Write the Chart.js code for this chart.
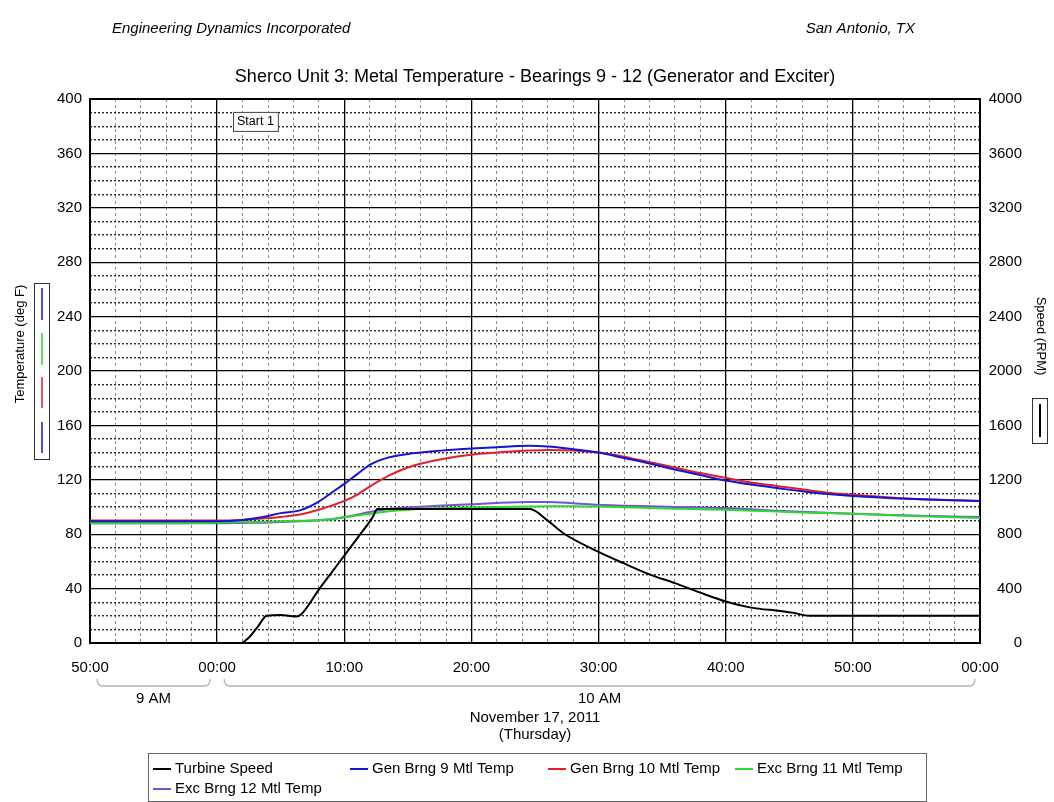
<!DOCTYPE html>
<html>
<head>
<meta charset="utf-8">
<title>Sherco Unit 3 - Bearings 9-12</title>
<script src="https://cdn.jsdelivr.net/npm/chart.js@4.4.1/dist/chart.umd.min.js"></script>
<style>
    html, body { margin: 0; padding: 0; background: #fff; }
    #wrap { width: 1054px; height: 802px; }
</style>
</head>
<body>
<div id="wrap"><canvas id="bearingChart" width="1054" height="802"></canvas></div>
<script>
// All times are minutes after 8:50 AM (x axis runs 8:50 -> 10:00)
const tempMinutes = [0, 5, 10, 12, 13.5, 15, 16.5, 18, 19, 20, 21, 22, 23.5, 25, 27, 30, 32, 34.5, 36, 38, 40, 42, 44, 46, 48, 50, 52, 54, 56, 58, 60, 63, 66, 70];
const gen9Temp  = [89.5, 89.5, 89.5, 90.5, 92.5, 95.5, 97.5, 104, 110.5, 117, 124, 131, 136.5, 139, 141, 143, 144, 145, 144.5, 142.5, 140, 136, 132, 127.5, 123.5, 119.5, 116.5, 114, 111.5, 109.5, 108, 106.5, 105.5, 104.5];
const gen10Temp = [90, 90, 90, 90.5, 91.5, 92.7, 94.5, 98, 101, 104.5, 109, 115, 123, 129, 134, 138.5, 140, 141.5, 142, 141.5, 140, 137, 133, 129, 125, 121.5, 118, 115.5, 113, 110.5, 109, 107, 105.5, 104.5];
const exc11Temp = [88, 88, 88.5, 89, 89, 89.5, 89.8, 90.2, 91, 92.5, 93.8, 95, 96.8, 98, 99, 99.7, 100, 100.3, 100.5, 100.5, 100.3, 99.8, 99.3, 98.8, 98.3, 98, 97.3, 96.7, 96, 95.5, 95, 94, 93, 92];
const exc12Temp = [88, 88, 88, 88.3, 88.5, 89, 89.5, 90.3, 91, 92.5, 94.3, 96.3, 98.5, 99.7, 100.8, 102, 103, 103.7, 103.7, 102.8, 101.6, 101, 100.5, 100, 99.6, 99.2, 98.3, 97.3, 96.5, 95.8, 95, 94.2, 93.4, 92.6];

const speedMinutes = [12, 12.6, 13.2, 13.9, 15, 16.2, 16.6, 18, 19, 20, 21, 22.2, 22.6, 26, 30, 34.6, 36, 37.2, 40, 42, 44, 46, 48, 50, 52, 54.3, 55.3, 56.6, 70];
const turbineSpeed = [0, 50, 120, 200, 205, 195, 210, 393, 518, 643, 768, 920, 985, 985, 985, 985, 900, 809, 670, 585, 505, 440, 370, 305, 260, 235, 222, 200, 200];

const seriesNames  = ['Turbine Speed', 'Gen Brng 9 Mtl Temp', 'Gen Brng 10 Mtl Temp', 'Exc Brng 11 Mtl Temp', 'Exc Brng 12 Mtl Temp'];
const seriesColors = ['#000000', '#1414d2', '#e0202c', '#2ed82e', '#7452d6'];

const startHour = { hour: 8, minute: 50 };
const hourGroups = [
    { label: '9 AM', from: 0, to: 10 },
    { label: '10 AM', from: 10, to: 70 }
];
const headerLeft = 'Engineering Dynamics Incorporated';
const headerRight = 'San Antonio, TX';
const chartTitle = 'Sherco Unit 3: Metal Temperature - Bearings 9 - 12 (Generator and Exciter)';
const dateLines = ['November 17, 2011', '(Thursday)'];
const startMarker = { label: 'Start 1', minute: 11.25, temp: 390.5 };

const FONT = '"Liberation Sans", Arial, Helvetica, sans-serif';

function pairs(xs, ys) {
    return xs.map((x, i) => ({ x: x, y: ys[i] }));
}

function minuteLabel(v) {
    const m = (startHour.minute + v) % 60;
    return String(m).padStart(2, '0') + ':00';
}

// extra texts, brackets, axis keys and the boxed legend
const decorPlugin = {
    id: 'decor',
    afterDraw(chart) {
        const ctx = chart.ctx;
        const area = chart.chartArea;
        const xs = chart.scales.x;
        const ys = chart.scales.y;
        ctx.save();
        ctx.fillStyle = '#000';
        ctx.textBaseline = 'middle';

        // page header
        ctx.font = 'italic 15px ' + FONT;
        ctx.textAlign = 'left';
        ctx.fillText(headerLeft, 112, 29);
        ctx.textAlign = 'right';
        ctx.fillText(headerRight, 915, 29);

        // title
        ctx.font = '18px ' + FONT;
        ctx.textAlign = 'center';
        ctx.fillText(chartTitle, (area.left + area.right) / 2, 77);

        // start marker
        const sx = xs.getPixelForValue(startMarker.minute);
        const sy = ys.getPixelForValue(startMarker.temp);
        ctx.font = '12.5px ' + FONT;
        const sw = ctx.measureText(startMarker.label).width + 8;
        ctx.fillStyle = '#fff';
        ctx.fillRect(sx, sy, sw, 19);
        ctx.strokeStyle = '#444';
        ctx.lineWidth = 1;
        ctx.strokeRect(sx + 0.5, sy + 0.5, sw, 19);
        ctx.fillStyle = '#000';
        ctx.textAlign = 'left';
        ctx.fillText(startMarker.label, sx + 4, sy + 10);

        // hour brackets under the axis
        ctx.strokeStyle = '#b4b4b4';
        ctx.lineWidth = 1.3;
        ctx.font = '15px ' + FONT;
        ctx.textAlign = 'center';
        hourGroups.forEach(g => {
            const x1 = xs.getPixelForValue(g.from) + 7;
            const x2 = xs.getPixelForValue(g.to) - (g.to === 70 ? 5 : 7);
            const yb = 686;
            ctx.beginPath();
            ctx.moveTo(x1, 679);
            ctx.quadraticCurveTo(x1, yb, x1 + 6, yb);
            ctx.lineTo(x2 - 6, yb);
            ctx.quadraticCurveTo(x2, yb, x2, 679);
            ctx.stroke();
            ctx.fillText(g.label, (x1 + x2) / 2, 699);
        });

        // date
        const cx = (area.left + area.right) / 2;
        ctx.fillText(dateLines[0], cx, 718);
        ctx.fillText(dateLines[1], cx, 735);

        // left axis title and colour key
        ctx.font = '13px ' + FONT;
        ctx.save();
        ctx.translate(20, 344);
        ctx.rotate(-Math.PI / 2);
        ctx.fillText('Temperature (deg F)', 0, 0);
        ctx.restore();
        ctx.strokeStyle = '#333';
        ctx.lineWidth = 1;
        ctx.strokeRect(34.5, 283.5, 15, 176);
        const keyTemps = [[1, 288, 320], [3, 333, 365], [2, 377, 408], [1, 422, 453]];
        ctx.lineWidth = 1.5;
        keyTemps.forEach(k => {
            ctx.strokeStyle = seriesColors[k[0]];
            ctx.beginPath();
            ctx.moveTo(42, k[1]);
            ctx.lineTo(42, k[2]);
            ctx.stroke();
        });

        // right axis title and key
        ctx.save();
        ctx.translate(1041, 336);
        ctx.rotate(Math.PI / 2);
        ctx.fillText('Speed (RPM)', 0, 0);
        ctx.restore();
        ctx.strokeStyle = '#333';
        ctx.lineWidth = 1;
        ctx.strokeRect(1032.5, 398.5, 15, 45);
        ctx.strokeStyle = seriesColors[0];
        ctx.lineWidth = 2;
        ctx.beginPath();
        ctx.moveTo(1040, 404);
        ctx.lineTo(1040, 437);
        ctx.stroke();

        // boxed legend
        ctx.strokeStyle = '#666';
        ctx.lineWidth = 1;
        ctx.strokeRect(148.5, 753.5, 778, 48);
        const legendCols = [153, 350, 548, 735];
        ctx.font = '15px ' + FONT;
        ctx.textAlign = 'left';
        chart.data.datasets.forEach((ds, i) => {
            const col = i % 4;
            const row = Math.floor(i / 4);
            const lx = legendCols[col];
            const ly = 769 + row * 20;
            ctx.strokeStyle = ds.borderColor;
            ctx.lineWidth = 2;
            ctx.beginPath();
            ctx.moveTo(lx, ly);
            ctx.lineTo(lx + 18, ly);
            ctx.stroke();
            ctx.fillStyle = '#000';
            ctx.fillText(ds.label, lx + 22, ly);
        });
        ctx.restore();
    }
};

const edgeWidth = (ctx, lo, hi) => {
    const v = ctx.tick ? ctx.tick.value : null;
    return (v === lo || v === hi) ? 2 : 1.3;
};

const chart = new Chart(document.getElementById('bearingChart'), {
    type: 'line',
    data: {
        datasets: [
            { label: seriesNames[0], data: pairs(speedMinutes, turbineSpeed), yAxisID: 'y2', borderColor: seriesColors[0] },
            { label: seriesNames[1], data: pairs(tempMinutes, gen9Temp), yAxisID: 'y', borderColor: seriesColors[1] },
            { label: seriesNames[2], data: pairs(tempMinutes, gen10Temp), yAxisID: 'y', borderColor: seriesColors[2] },
            { label: seriesNames[3], data: pairs(tempMinutes, exc11Temp), yAxisID: 'y', borderColor: seriesColors[3] },
            { label: seriesNames[4], data: pairs(tempMinutes, exc12Temp), yAxisID: 'y', borderColor: seriesColors[4] }
        ].map(ds => Object.assign(ds, {
            xAxisID: 'x',
            backgroundColor: ds.borderColor,
            borderWidth: 2,
            pointRadius: 0,
            fill: false,
            cubicInterpolationMode: 'monotone'
        }))
    },
    options: {
        responsive: false,
        devicePixelRatio: 1,
        animation: false,
        layout: { padding: { top: 99, right: 32, left: 0, bottom: 0 } },
        plugins: {
            legend: { display: false },
            tooltip: { enabled: false },
            title: { display: false }
        },
        scales: {
            x: {
                type: 'linear',
                position: 'bottom',
                min: 0,
                max: 70,
                afterFit: s => { s.height = 159; },
                ticks: {
                    stepSize: 10,
                    autoSkip: false,
                    maxRotation: 0,
                    padding: 16,
                    color: '#000',
                    font: { family: FONT, size: 15 },
                    callback: v => minuteLabel(v)
                },
                grid: { color: '#000', lineWidth: c => edgeWidth(c, 0, 70), drawTicks: false },
                border: { color: '#000', width: 2 }
            },
            xMinor: {
                type: 'linear',
                position: 'bottom',
                min: 0,
                max: 70,
                afterFit: s => { s.height = 0; },
                ticks: { display: false, stepSize: 2, autoSkip: false, maxTicksLimit: 100 },
                grid: {
                    z: -2,
                    drawTicks: false,
                    lineWidth: 1,
                    color: c => (c.tick && c.tick.value % 10 === 0) ? 'rgba(0,0,0,0)' : '#8a8a8a'
                },
                border: { display: false, dash: [3, 3] }
            },
            y: {
                type: 'linear',
                position: 'left',
                min: 0,
                max: 400,
                afterFit: s => { s.width = 90; },
                ticks: {
                    stepSize: 40,
                    autoSkip: false,
                    padding: 8,
                    color: '#000',
                    font: { family: FONT, size: 15 }
                },
                grid: { color: '#000', lineWidth: c => edgeWidth(c, 0, 400), drawTicks: false },
                border: { color: '#000', width: 2 }
            },
            yMinor: {
                type: 'linear',
                position: 'left',
                min: 0,
                max: 400,
                afterFit: s => { s.width = 0; },
                ticks: { display: false, stepSize: 10, autoSkip: false, maxTicksLimit: 100 },
                grid: {
                    z: -2,
                    drawTicks: false,
                    lineWidth: 1.4,
                    color: c => (c.tick && c.tick.value % 40 === 0) ? 'rgba(0,0,0,0)' : '#2a2a2a'
                },
                border: { display: false, dash: [2, 2] }
            },
            y2: {
                type: 'linear',
                position: 'right',
                min: 0,
                max: 4000,
                afterFit: s => { s.width = 42; },
                ticks: {
                    stepSize: 400,
                    autoSkip: false,
                    crossAlign: 'far',
                    color: '#000',
                    font: { family: FONT, size: 15 },
                    callback: v => String(v)
                },
                grid: { drawOnChartArea: false, drawTicks: false },
                border: { color: '#000', width: 2 }
            }
        }
    },
    plugins: [decorPlugin]
});
</script>
</body>
</html>
